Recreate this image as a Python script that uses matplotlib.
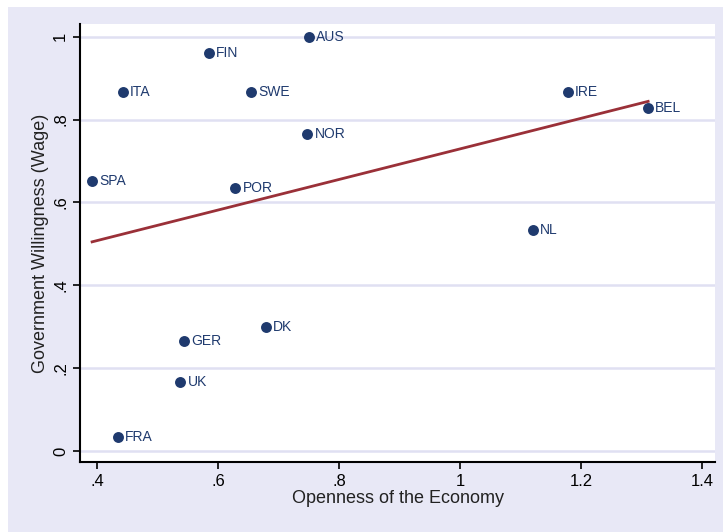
import numpy as np
import matplotlib
matplotlib.use("Agg")
import matplotlib.pyplot as plt
from matplotlib.patches import Rectangle
from matplotlib.ticker import FuncFormatter

plt.rcParams["font.family"] = ["Liberation Sans", "DejaVu Sans"]

# 国家、开放度、政府意愿
countries = ["AUS", "FIN", "ITA", "SWE", "NOR", "SPA", "POR",
             "IRE", "BEL", "NL", "DK", "GER", "UK", "FRA"]
openness = [0.750, 0.585, 0.443, 0.655, 0.748, 0.392, 0.629,
            1.178, 1.311, 1.121, 0.679, 0.544, 0.538, 0.435]
willingness = [1.000, 0.960, 0.866, 0.866, 0.765, 0.651, 0.634,
               0.866, 0.8275, 0.533, 0.300, 0.266, 0.166, 0.0345]

x_ticks = [0.4, 0.6, 0.8, 1.0, 1.2, 1.4]
y_ticks = [0.0, 0.2, 0.4, 0.6, 0.8, 1.0]

navy = "#1f3a6e"
maroon = "#9a3038"
lavender = "#e8e8f6"
grid_col = "#e0e0f2"


def stata_fmt(v, pos):
    s = f"{v:g}"
    if s.startswith("0."):
        s = s[1:]
    return s


fig = plt.figure(figsize=(7.23, 5.32), dpi=100, facecolor="white")
fig.patches.append(Rectangle((8 / 723, 0), 1, 525 / 532, transform=fig.transFigure,
                             facecolor=lavender, edgecolor="none", zorder=-10))

ax = fig.add_axes([80 / 723, 70 / 532, 635 / 723, 438 / 532])
ax.set_facecolor("white")

# 线性拟合线
xa = np.array(openness)
ya = np.array(willingness)
slope, intercept = np.polyfit(xa, ya, 1)
xf = np.array([xa.min(), xa.max()])
ax.plot(xf, slope * xf + intercept, color=maroon, linewidth=2, zorder=3)

ax.scatter(openness, willingness, s=62, color=navy, zorder=4, linewidths=0)
for name, xv, yv in zip(countries, openness, willingness):
    ax.annotate(name, (xv, yv), xytext=(5, 0), textcoords="offset points",
                va="center", ha="left", fontsize=10, color=navy, zorder=5)

ax.set_xlim(0.372, 1.4215)
ax.set_ylim(-0.0265, 1.0306)
ax.set_xticks(x_ticks)
ax.set_yticks(y_ticks)
ax.xaxis.set_major_formatter(FuncFormatter(stata_fmt))
ax.yaxis.set_major_formatter(FuncFormatter(stata_fmt))
ax.tick_params(axis="both", direction="out", length=5, width=1.2, labelsize=12,
               colors="black")
ax.tick_params(axis="y", labelrotation=90)
for lbl in ax.get_yticklabels():
    lbl.set_va("center")

ax.grid(True, axis="y", color=grid_col, linewidth=1.8, zorder=1)
ax.set_axisbelow(True)

for side in ["top", "right"]:
    ax.spines[side].set_visible(False)
for side in ["left", "bottom"]:
    ax.spines[side].set_linewidth(1.5)
    ax.spines[side].set_color("black")

ax.set_xlabel("Openness of the Economy", fontsize=13, color="#222222", labelpad=1)
ax.set_ylabel("Government Willingness (Wage)", fontsize=13, color="#222222", labelpad=3)

fig.savefig("out.png", dpi=100, facecolor=fig.get_facecolor())
